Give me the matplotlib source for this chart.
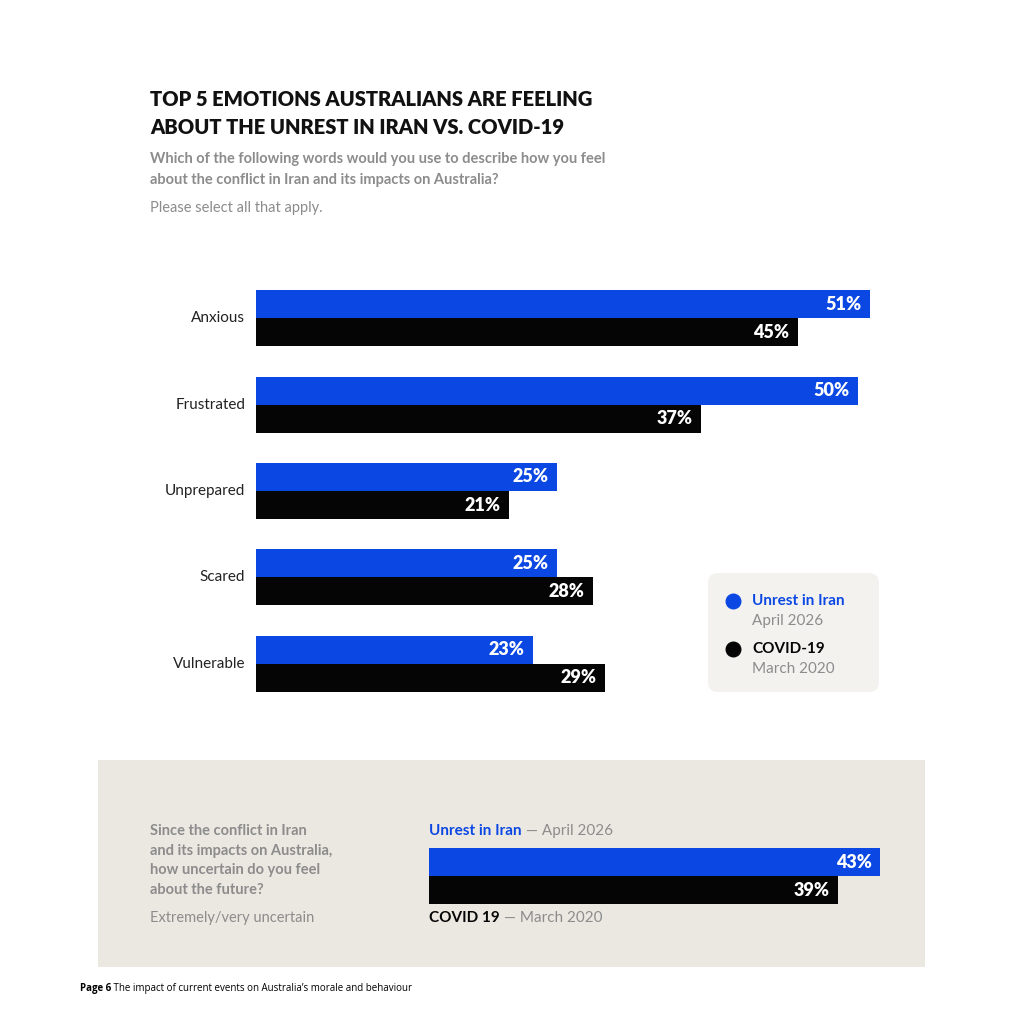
import matplotlib.pyplot as plt
from matplotlib.patches import FancyBboxPatch, Rectangle

categories = ['Anxious', 'Frustrated', 'Unprepared', 'Scared', 'Vulnerable']
iran = [51, 50, 25, 25, 23]
covid = [45, 37, 21, 28, 29]
uncertain_iran = 43
uncertain_covid = 39

BLUE = '#0a47e3'
BLACK = '#050505'
GREY = '#8c8c8c'
FONT = ['Lato', 'DejaVu Sans']
W = H = 1024

fig = plt.figure(figsize=(10.24, 10.24), dpi=100)
fig.patch.set_facecolor('white')
bg = fig.add_axes([0, 0, 1, 1])
bg.set_xlim(0, W)
bg.set_ylim(H, 0)
bg.axis('off')

def px_axes(x0, y0, x1, y1):
    # axes placed by pixel box (top-left origin)
    ax = fig.add_axes([x0 / W, 1 - y1 / H, (x1 - x0) / W, (y1 - y0) / H])
    ax.axis('off')
    return ax

# title block
bg.text(150, 100, 'TOP 5 EMOTIONS AUSTRALIANS ARE FEELING', fontsize=14.5, fontweight='heavy',
        family=FONT, color='#111111', va='center')
bg.text(150, 128, 'ABOUT THE UNREST IN IRAN VS. COVID-19', fontsize=14.5, fontweight='heavy',
        family=FONT, color='#111111', va='center')
bg.text(150, 159, 'Which of the following words would you use to describe how you feel', fontsize=10.5,
        fontweight='bold', family=FONT, color=GREY, va='center')
bg.text(150, 180, 'about the conflict in Iran and its impacts on Australia?', fontsize=10.5,
        fontweight='bold', family=FONT, color=GREY, va='center')
bg.text(150, 208, 'Please select all that apply.', fontsize=10.5, family=FONT, color=GREY, va='center')

# main chart: 12.04 px per percent, rows 86.4 px apart
ax = px_axes(256, 275, 1000, 707)
ax.set_xlim(0, 744 / 12.04)
ax.set_ylim(len(categories) - 0.5, -0.5)
h = 0.325
for i, (c, a, b) in enumerate(zip(categories, iran, covid)):
    ax.barh(i - h / 2, a, height=h, color=BLUE)
    ax.barh(i + h / 2, b, height=h, color=BLACK)
    ax.text(a - 0.7, i - h / 2, f'{a}%', color='white', fontsize=13, fontweight='heavy',
            family=FONT, ha='right', va='center')
    ax.text(b - 0.7, i + h / 2, f'{b}%', color='white', fontsize=13, fontweight='heavy',
            family=FONT, ha='right', va='center')
    ax.text(-0.9, i, c, fontsize=11, family=FONT, color='#222222', ha='right', va='center')

# legend box
bg.add_patch(FancyBboxPatch((712, 577), 163, 111, boxstyle='round,pad=4,rounding_size=10',
                            fc='#f3f2ef', ec='none', zorder=0))
bg.scatter([733], [601], s=110, color=BLUE)
bg.scatter([733], [649], s=110, color=BLACK)
bg.text(752, 601, 'Unrest in Iran', fontsize=11, fontweight='bold', family=FONT, color=BLUE, va='center')
bg.text(752, 621, 'April 2026', fontsize=11, family=FONT, color=GREY, va='center')
bg.text(752, 649, 'COVID-19', fontsize=11, fontweight='bold', family=FONT, color=BLACK, va='center')
bg.text(752, 669, 'March 2020', fontsize=11, family=FONT, color=GREY, va='center')

# bottom panel
bg.add_patch(Rectangle((98, 760), 827, 207, fc='#ebe8e2', ec='none', zorder=0))
for k, line in enumerate(['Since the conflict in Iran', 'and its impacts on Australia,',
                          'how uncertain do you feel', 'about the future?']):
    bg.text(150, 831 + k * 19.5, line, fontsize=10.5, fontweight='bold', family=FONT, color=GREY, va='center')
bg.text(150, 918, 'Extremely/very uncertain', fontsize=10.5, family=FONT, color=GREY, va='center')

t = bg.text(429, 831, 'Unrest in Iran', fontsize=11, fontweight='bold', family=FONT, color=BLUE, va='center')
bg.annotate(' \u2014 April 2026', xycoords=t, xy=(1, 0.5), va='center', fontsize=11, family=FONT, color=GREY)
t2 = bg.text(429, 918, 'COVID 19', fontsize=11, fontweight='bold', family=FONT, color=BLACK, va='center')
bg.annotate(' \u2014 March 2020', xycoords=t2, xy=(1, 0.5), va='center', fontsize=11, family=FONT, color=GREY)

ax2 = px_axes(429, 848, 925, 904)
ax2.set_xlim(0, 496 / 10.49)
ax2.set_ylim(1, -1)
ax2.barh(-0.5, uncertain_iran, height=1, color=BLUE)
ax2.barh(0.5, uncertain_covid, height=1, color=BLACK)
ax2.text(uncertain_iran - 0.8, -0.5, f'{uncertain_iran}%', color='white', fontsize=13,
         fontweight='heavy', family=FONT, ha='right', va='center')
ax2.text(uncertain_covid - 0.8, 0.5, f'{uncertain_covid}%', color='white', fontsize=13,
         fontweight='heavy', family=FONT, ha='right', va='center')

# footer
f = bg.text(80, 989, 'Page 6', fontsize=7, fontweight='bold', family=['Open Sans', 'DejaVu Sans'], va='center')
bg.annotate(' The impact of current events on Australia\u2019s morale and behaviour', xycoords=f, xy=(1, 0.5),
            va='center', fontsize=7, family=['Open Sans', 'DejaVu Sans'])

fig.savefig('out.png', dpi=100)
